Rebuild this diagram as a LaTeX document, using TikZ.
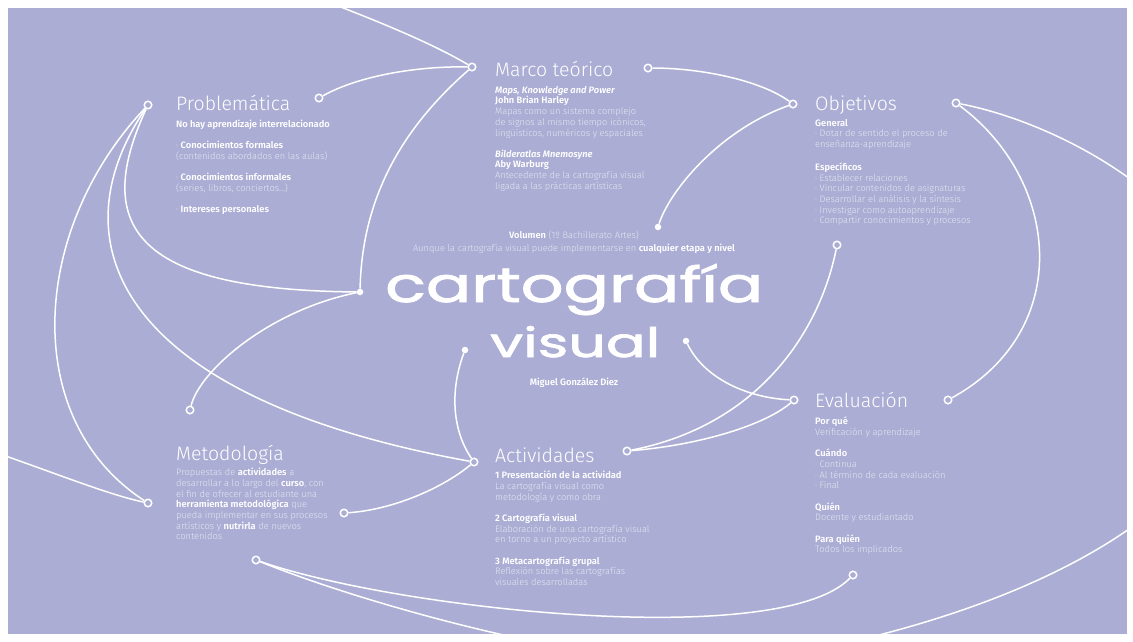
\documentclass[tikz,border=0pt]{standalone}
\usepackage{fontspec}
\usepackage{graphicx}
\setmainfont{Fira Sans}[UprightFont=* Light, BoldFont=* SemiBold, ItalicFont=* Light Italic, BoldItalicFont=* SemiBold Italic]
\newfontfamily\bigfont{Poppins}[FakeBold=1.6]
\definecolor{bg}{RGB}{171,173,212}
\colorlet{soft}{white!70!bg}
\newcommand{\bw}[1]{\textcolor{white}{\textbf{#1}}}
\tikzset{
  ring/.style={circle, draw=white, fill=bg, line width=1.5pt, minimum size=7.5pt, inner sep=0pt},
  dot/.style={circle, fill=white, minimum size=6.5pt, inner sep=0pt},
  link/.style={white, line width=1.5pt},
  title/.style={white, font=\fontsize{19.5}{22}\selectfont, anchor=base west, inner sep=0pt},
  body/.style={soft, font=\fontsize{9.3}{10.7}\selectfont, align=left, anchor=north west, inner sep=0pt},
}
\begin{document}
\begin{tikzpicture}[x=1pt, y=-1pt]
  \useasboundingbox (0,0) rectangle (1133,641);
  \fill[bg] (8,8) rectangle (1127,634);

  % points on the curves
  \node[ring] (probA) at (148,105) {};
  \node[ring] (probB) at (319,98) {};
  \node[ring] (marA) at (472,67) {};
  \node[ring] (marB) at (648,68) {};
  \node[ring] (objA) at (793,104) {};
  \node[ring] (objB) at (956,103) {};
  \node[ring] (objC) at (837,245) {};
  \node[dot] (dotMar) at (658,227) {};
  \node[dot] (dotProb) at (360,292) {};
  \node[dot] (dotAct) at (465,350) {};
  \node[dot] (dotEva) at (686,341) {};
  \node[ring] (metA) at (190,410) {};
  \node[ring] (evaA) at (794,400) {};
  \node[ring] (evaB) at (948,400) {};
  \node[ring] (metB) at (148,503) {};
  \node[ring] (metC) at (344,513) {};
  \node[ring] (actA) at (474,462) {};
  \node[ring] (actB) at (627,451) {};
  \node[ring] (metD) at (256,560) {};
  \node[ring] (evaC) at (853,575) {};
  \coordinate (topA) at (333,4);
  \coordinate (leftA) at (0,454);

  \begin{scope}
    \clip (8,8) rectangle (1127,634);
    \draw[link] (topA) .. controls (385,24) and (435,45) .. (marA);
    \draw[link] (probB) .. controls (360,75) and (420,66) .. (marA);
    \draw[link] (marA) .. controls (400,130) and (362,200) .. (dotProb);
    \draw[link] (probA) .. controls (90,230) and (140,290) .. (dotProb);
    \draw[link] (probA) .. controls (50,250) and (130,400) .. (actA);
    \draw[link] (probA) .. controls (30,230) and (20,420) .. (metB);
    \draw[link] (leftA) .. controls (60,475) and (110,495) .. (metB);
    \draw[link] (dotProb) .. controls (270,310) and (200,370) .. (metA);
    \draw[link] (dotAct) .. controls (450,390) and (452,430) .. (actA);
    \draw[link] (actA) .. controls (440,490) and (390,510) .. (metC);
    \draw[link] (marB) .. controls (700,68) and (760,80) .. (objA);
    \draw[link] (objA) .. controls (720,130) and (670,190) .. (dotMar);
    \draw[link] (objB) .. controls (1060,180) and (1075,330) .. (evaB);
    \draw[link] (objC) .. controls (820,330) and (760,425) .. (actB);
    \draw[link] (actB) .. controls (700,445) and (765,425) .. (evaA);
    \draw[link] (dotEva) .. controls (705,380) and (750,398) .. (evaA);
    \draw[link] (metD) .. controls (400,610) and (780,650) .. (evaC);
    \draw[link] (objB) .. controls (1070,125) and (1240,220) .. (1240,360)
      .. controls (1240,490) and (1060,610) .. (760,660)
      .. controls (640,680) and (380,610) .. (metD);
  \end{scope}

  % titles
  \node[title] (probTitle) at (176,110) {Problemática};
  \node[title] (marTitle) at (495,76) {Marco teórico};
  \node[title] (objTitle) at (815,110.5) {Objetivos};
  \node[title] (evaTitle) at (815,407) {Evaluación};
  \node[title] (metTitle) at (176,460) {Metodología};
  \node[title] (actTitle) at (495,462) {Actividades};

  % texts
  \node[body] (probText) at (176,120) {\bw{No hay aprendizaje interrelacionado}\\[10.5pt]
    · \bw{Conocimientos formales}\\ (contenidos abordados en las aulas)\\[10.5pt]
    · \bw{Conocimientos informales}\\ (series, libros, conciertos...)\\[10.5pt]
    · \bw{Intereses personales}};
  \node[body] (marText) at (495,86) {\bw{\textit{Maps, Knowledge and Power}}\\ \bw{John Brian Harley}\\
    Mapas como un sistema complejo\\ de signos al mismo tiempo icónicos,\\
    lingüísticos, numéricos y espaciales\\[10.5pt]
    \bw{\textit{Bilderatlas Mnemosyne}}\\ \bw{Aby Warburg}\\
    Antecedente de la cartografía visual\\ ligada a las prácticas artísticas};
  \node[body] (objText) at (815,119) {\bw{General}\\ · Dotar de sentido el proceso de\\
    enseñanza-aprendizaje\\[12pt] \bw{Específicos}\\ · Establecer relaciones\\
    · Vincular contenidos de asignaturas\\ · Desarrollar el análisis y la síntesis\\
    · Investigar como autoaprendizaje\\ · Compartir conocimientos y procesos};
  \node[body, align=center, anchor=north] (volText) at (574,231) {\bw{Volumen} (1º Bachillerato Artes)\\[1.5pt]
    Aunque la cartografía visual puede implementarse en \bw{cualquier etapa y nivel}};
  \node[anchor=base west, inner sep=0pt, white] (bigA) at (385,302) {\resizebox{378pt}{38pt}{\bigfont cartografía}};
  \node[anchor=base west, inner sep=0pt, white] (bigB) at (490,357) {\resizebox{170pt}{31pt}{\bigfont visual}};
  \node[body, anchor=center] (author) at (574,383) {\bw{Miguel González Diez}};
  \node[body] (metText) at (176,468) {Propuestas de \bw{actividades} a\\
    desarrollar a lo largo del \bw{curso}, con\\ el fin de ofrecer al estudiante una\\
    \bw{herramienta metodológica} que\\ pueda implementar en sus procesos\\
    artísticos y \bw{nutrirla} de nuevos\\ contenidos};
  \node[body] (actText) at (495,471) {\bw{1 Presentación de la actividad}\\ La cartografía visual como\\
    metodología y como obra\\[10.5pt] \bw{2 Cartografía visual}\\
    Elaboración de una cartografía visual\\ en torno a un proyecto artístico\\[10.5pt]
    \bw{3 Metacartografía grupal}\\ Reflexión sobre las cartografías\\ visuales desarrolladas};
  \node[body] (evaText) at (815,417) {\bw{Por qué}\\ Verificación y aprendizaje\\[10.5pt]
    \bw{Cuándo}\\ · Continua\\ · Al término de cada evaluación\\ · Final\\[10.5pt]
    \bw{Quién}\\ Docente y estudiantado\\[10.5pt] \bw{Para quién}\\ Todos los implicados};
\end{tikzpicture}
\end{document}
